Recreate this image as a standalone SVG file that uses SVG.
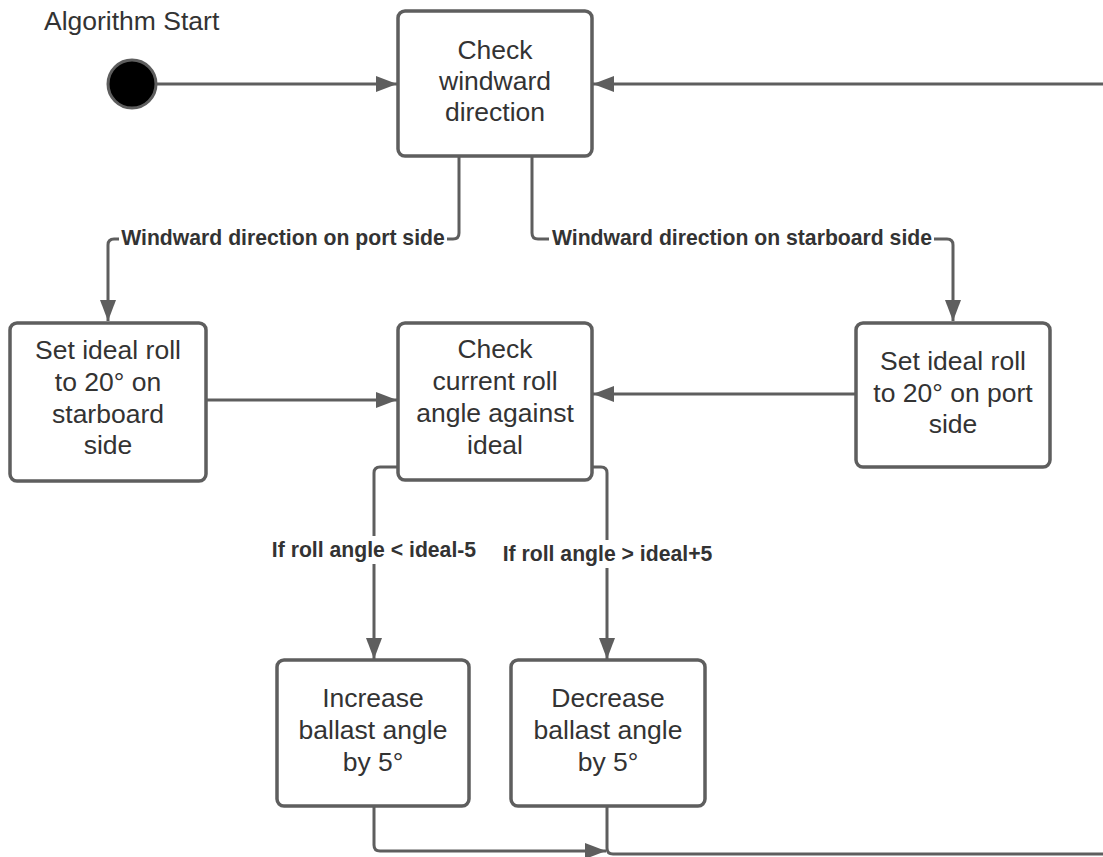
<svg xmlns="http://www.w3.org/2000/svg" width="1103" height="857" viewBox="0 0 1103 857">
  <style>
    .box { fill: #ffffff; stroke: #5e5e5e; stroke-width: 3.5; }
    .node-text { font-family: "Liberation Sans", Arial, sans-serif; font-size: 26.5px; fill: #333333; text-anchor: middle; }
    .title { font-family: "Liberation Sans", Arial, sans-serif; font-size: 26.5px; fill: #333333; }
    .edge { fill: none; stroke: #5e5e5e; stroke-width: 3; }
    .label { font-family: "Liberation Sans", Arial, sans-serif; font-size: 21.2px; font-weight: bold; fill: #333333; text-anchor: middle; }
    .label-bg { fill: #ffffff; }
  </style>
  <defs>
    <marker id="arrow" markerUnits="userSpaceOnUse" markerWidth="22" markerHeight="18" refX="21" refY="8" orient="auto">
      <path d="M0,0 L21,8 L0,16 z" fill="#5e5e5e"/>
    </marker>
  </defs>

  <rect width="1103" height="857" fill="#ffffff"/>

  <!-- connectors -->
  <g id="connectors">
    <path class="edge" d="M157,84 H397" marker-end="url(#arrow)"/>
    <path class="edge" d="M607,806 V848 Q607,854 613,854 H1140 V84 H593" marker-end="url(#arrow)"/>
    <path class="edge" d="M459,157 V233 Q459,239 453,239 H114 Q108,239 108,245 V321" marker-end="url(#arrow)"/>
    <path class="edge" d="M532,157 V233 Q532,239 538,239 H947 Q953,239 953,245 V321" marker-end="url(#arrow)"/>
    <path class="edge" d="M206,400 H397" marker-end="url(#arrow)"/>
    <path class="edge" d="M856,394 H593" marker-end="url(#arrow)"/>
    <path class="edge" d="M398,467 H380 Q374,467 374,473 V659" marker-end="url(#arrow)"/>
    <path class="edge" d="M592,467 H601 Q607,467 607,473 V659" marker-end="url(#arrow)"/>
    <path class="edge" d="M374,806 V845 Q374,851 380,851 H606" marker-end="url(#arrow)"/>

    <rect class="label-bg" x="119" y="226" width="328" height="26"/>
    <text class="label" x="283" y="245">Windward direction on port side</text>
    <rect class="label-bg" x="549" y="226" width="385" height="26"/>
    <text class="label" x="742" y="245">Windward direction on starboard side</text>
    <rect class="label-bg" x="269" y="536" width="210" height="28"/>
    <text class="label" x="374" y="557">If roll angle &lt; ideal-5</text>
    <rect class="label-bg" x="500" y="540" width="215" height="28"/>
    <text class="label" x="607.5" y="561">If roll angle &gt; ideal+5</text>
  </g>

  <!-- initial state -->
  <g id="start">
    <text class="title" x="44" y="30">Algorithm Start</text>
    <circle cx="132" cy="84" r="24" fill="#000000" stroke="#5e5e5e" stroke-width="3"/>
  </g>

  <g id="check-windward">
    <rect class="box" x="398" y="11" width="194" height="145" rx="7"/>
    <text class="node-text" x="495" y="59">Check</text>
    <text class="node-text" x="495" y="90">windward</text>
    <text class="node-text" x="495" y="121">direction</text>
  </g>

  <g id="set-roll-starboard">
    <rect class="box" x="10" y="323" width="196" height="158" rx="7"/>
    <text class="node-text" x="108" y="359">Set ideal roll</text>
    <text class="node-text" x="108" y="391">to 20° on</text>
    <text class="node-text" x="108" y="423">starboard</text>
    <text class="node-text" x="108" y="454">side</text>
  </g>

  <g id="check-roll">
    <rect class="box" x="398" y="323" width="194" height="157" rx="7"/>
    <text class="node-text" x="495" y="358">Check</text>
    <text class="node-text" x="495" y="390">current roll</text>
    <text class="node-text" x="495" y="422">angle against</text>
    <text class="node-text" x="495" y="454">ideal</text>
  </g>

  <g id="set-roll-port">
    <rect class="box" x="856" y="323" width="194" height="144" rx="7"/>
    <text class="node-text" x="953" y="370">Set ideal roll</text>
    <text class="node-text" x="953" y="402">to 20° on port</text>
    <text class="node-text" x="953" y="433">side</text>
  </g>

  <g id="increase-ballast">
    <rect class="box" x="277" y="660" width="192" height="146" rx="7"/>
    <text class="node-text" x="373" y="707">Increase</text>
    <text class="node-text" x="373" y="739">ballast angle</text>
    <text class="node-text" x="373" y="771">by 5°</text>
  </g>

  <g id="decrease-ballast">
    <rect class="box" x="511" y="660" width="194" height="146" rx="7"/>
    <text class="node-text" x="608" y="707">Decrease</text>
    <text class="node-text" x="608" y="739">ballast angle</text>
    <text class="node-text" x="608" y="771">by 5°</text>
  </g>
</svg>
